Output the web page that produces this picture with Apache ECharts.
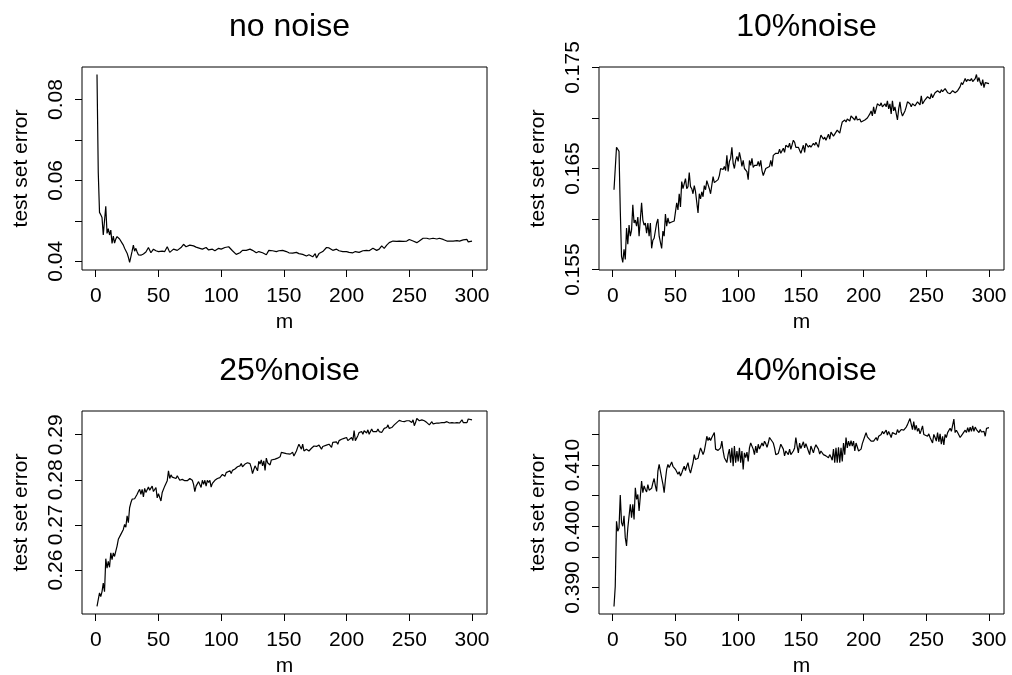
<!DOCTYPE html>
<html>
<head>
<meta charset="utf-8">
<script src="https://cdn.jsdelivr.net/npm/echarts@6/dist/echarts.min.js"></script>
<style>
  html, body { margin: 0; padding: 0; background: #fff; }
  #main { width: 1012px; height: 675px; }
</style>
</head>
<body>
<div id="main"></div>
<script>
// m = training set size, values = test set error
var noNoiseM = [1,2,3,4,5,6,7,8,9,10,11,12,13,14,15,16,17,18,19,20,21,22,23,24,25,26,27,28,29,30,31,32,33,34,35,36,38,40,42,44,46,48,50,53,55,57,58,59,62,65,68,70,72,75,78,80,83,85,88,90,93,95,98,100,103,106,109,112,115,117,120,123,125,128,130,133,136,138,141,144,146,149,152,154,157,160,162,165,168,170,173,175,176,178,181,184,186,189,192,194,197,200,202,205,207,210,213,216,218,221,224,226,228,230,232,234,237,240,242,245,248,250,253,256,258,261,264,266,269,272,274,277,280,282,285,288,290,293,296,297,300];
var noNoiseErr = [0.0862,0.0620,0.0521,0.0515,0.0508,0.0465,0.0466,0.0536,0.0469,0.0481,0.0465,0.0477,0.0444,0.0462,0.0445,0.0455,0.0461,0.0462,0.0455,0.0452,0.0445,0.0440,0.0432,0.0428,0.0420,0.0410,0.0397,0.0411,0.0425,0.0440,0.0425,0.0432,0.0423,0.0416,0.0413,0.0415,0.0418,0.0423,0.0434,0.0421,0.0430,0.0426,0.0424,0.0425,0.0424,0.0436,0.0433,0.0422,0.0430,0.0427,0.0434,0.0442,0.0436,0.0440,0.0438,0.0435,0.0432,0.0430,0.0434,0.0428,0.0430,0.0426,0.0432,0.0430,0.0434,0.0436,0.0426,0.0417,0.0421,0.0427,0.0427,0.0430,0.0427,0.0421,0.0424,0.0421,0.0416,0.0427,0.0426,0.0424,0.0426,0.0427,0.0424,0.0421,0.0420,0.0422,0.0419,0.0417,0.0413,0.0416,0.0411,0.0419,0.0408,0.0419,0.0424,0.0434,0.0433,0.0427,0.0430,0.0426,0.0424,0.0424,0.0422,0.0421,0.0424,0.0422,0.0426,0.0427,0.0426,0.0432,0.0427,0.0430,0.0438,0.0432,0.0440,0.0446,0.0450,0.0449,0.0450,0.0449,0.0450,0.0454,0.0450,0.0446,0.0450,0.0457,0.0457,0.0455,0.0457,0.0455,0.0457,0.0454,0.0450,0.0450,0.0450,0.0451,0.0450,0.0453,0.0454,0.0448,0.0450];

var noise10M = [1,2,3,4,5,6,7,8,9,10,11,12,13,14,15,16,17,18,19,20,21,23,24,25,26,27,28,29,30,31,32,33,35,36,37,39,40,41,42,43,44,45,47,49,51,52,53,54,55,56,57,58,59,60,61,62,63,64,65,66,68,69,70,71,72,73,74,75,76,77,78,80,81,82,84,85,86,88,89,90,91,92,93,94,95,96,97,98,99,100,101,102,103,104,105,107,108,109,110,111,112,113,114,115,116,117,118,119,120,122,123,125,126,127,128,130,131,132,133,134,136,137,138,140,141,142,144,145,146,148,149,150,152,153,154,156,157,158,160,161,162,164,165,166,168,169,170,172,173,174,176,177,178,179,181,182,183,185,186,187,189,190,191,193,194,195,197,198,199,201,202,203,205,206,207,208,209,210,211,213,214,215,217,218,219,220,221,222,223,224,225,227,228,229,230,231,233,234,235,237,238,239,241,242,243,245,246,247,249,250,251,253,254,255,257,258,259,261,262,263,265,266,267,269,270,271,273,274,275,277,278,279,281,282,283,285,286,287,289,290,291,292,293,294,295,296,297,298,300];
var noise10Err = [0.1629,0.1629,0.1671,0.1669,0.1667,0.1609,0.1563,0.1557,0.1570,0.1560,0.1591,0.1575,0.1594,0.1583,0.1589,0.1614,0.1596,0.1599,0.1593,0.1602,0.1583,0.1616,0.1599,0.1594,0.1596,0.1586,0.1596,0.1583,0.1596,0.1571,0.1579,0.1581,0.1596,0.1600,0.1583,0.1571,0.1588,0.1583,0.1605,0.1593,0.1601,0.1596,0.1597,0.1598,0.1616,0.1609,0.1625,0.1612,0.1637,0.1630,0.1635,0.1640,0.1630,0.1632,0.1646,0.1632,0.1630,0.1625,0.1633,0.1627,0.1606,0.1625,0.1620,0.1627,0.1622,0.1633,0.1629,0.1638,0.1634,0.1630,0.1625,0.1642,0.1636,0.1635,0.1639,0.1643,0.1650,0.1649,0.1652,0.1648,0.1663,0.1647,0.1657,0.1660,0.1671,0.1655,0.1650,0.1658,0.1662,0.1657,0.1666,0.1660,0.1652,0.1658,0.1650,0.1647,0.1639,0.1658,0.1653,0.1660,0.1651,0.1653,0.1652,0.1653,0.1657,0.1652,0.1658,0.1648,0.1643,0.1650,0.1649,0.1652,0.1658,0.1652,0.1663,0.1665,0.1666,0.1665,0.1669,0.1665,0.1670,0.1666,0.1673,0.1671,0.1675,0.1669,0.1678,0.1676,0.1671,0.1671,0.1672,0.1665,0.1673,0.1666,0.1675,0.1671,0.1673,0.1671,0.1675,0.1673,0.1676,0.1671,0.1678,0.1683,0.1679,0.1681,0.1678,0.1684,0.1679,0.1686,0.1682,0.1684,0.1683,0.1688,0.1685,0.1691,0.1696,0.1698,0.1696,0.1699,0.1697,0.1702,0.1701,0.1698,0.1702,0.1698,0.1699,0.1696,0.1695,0.1698,0.1699,0.1700,0.1704,0.1707,0.1702,0.1711,0.1704,0.1709,0.1714,0.1712,0.1715,0.1711,0.1714,0.1711,0.1717,0.1709,0.1714,0.1704,0.1717,0.1707,0.1711,0.1698,0.1709,0.1716,0.1706,0.1702,0.1707,0.1711,0.1716,0.1714,0.1711,0.1714,0.1712,0.1711,0.1716,0.1713,0.1722,0.1714,0.1718,0.1717,0.1721,0.1719,0.1724,0.1720,0.1725,0.1724,0.1727,0.1725,0.1728,0.1726,0.1729,0.1727,0.1725,0.1724,0.1724,0.1727,0.1725,0.1724,0.1727,0.1731,0.1735,0.1733,0.1739,0.1736,0.1738,0.1737,0.1739,0.1736,0.1739,0.1743,0.1736,0.1740,0.1735,0.1732,0.1738,0.1730,0.1735,0.1736,0.1734];

var noise25M = [1,2,3,4,5,6,7,8,9,10,11,12,13,14,15,16,17,18,19,20,21,22,23,24,25,26,27,28,29,30,31,32,33,34,35,36,37,38,39,40,41,42,43,44,45,46,47,48,49,50,51,52,53,54,55,56,57,58,59,60,61,62,64,65,66,67,68,69,71,72,73,75,76,77,78,79,80,81,82,84,85,86,87,88,89,90,91,92,93,95,96,97,99,100,101,103,104,105,107,108,109,111,112,113,115,116,117,119,120,121,123,124,125,127,128,129,130,131,132,133,134,135,136,137,139,140,141,143,144,145,147,148,149,152,155,157,158,160,161,162,164,165,166,168,169,170,172,173,174,176,177,178,180,181,182,184,185,186,188,189,190,192,193,194,196,197,198,200,201,202,204,205,206,207,208,209,210,212,213,214,216,217,218,220,221,222,224,225,226,228,229,230,232,233,234,236,237,238,240,241,242,244,245,246,248,249,250,252,253,254,255,256,257,258,260,261,262,264,265,266,268,269,270,272,273,274,276,277,278,280,281,282,284,285,286,288,289,290,292,293,294,296,297,298,300];
var noise25Err = [0.2519,0.2519,0.2549,0.2541,0.2552,0.2571,0.2552,0.2625,0.2604,0.2619,0.2606,0.2638,0.2623,0.2638,0.2630,0.2642,0.2653,0.2668,0.2665,0.2679,0.2675,0.2690,0.2701,0.2695,0.2720,0.2705,0.2738,0.2749,0.2757,0.2759,0.2758,0.2763,0.2768,0.2774,0.2779,0.2768,0.2779,0.2762,0.2781,0.2772,0.2775,0.2784,0.2777,0.2779,0.2786,0.2774,0.2772,0.2783,0.2760,0.2769,0.2766,0.2753,0.2772,0.2769,0.2786,0.2792,0.2798,0.2820,0.2803,0.2811,0.2806,0.2808,0.2803,0.2809,0.2805,0.2799,0.2796,0.2801,0.2798,0.2801,0.2798,0.2803,0.2806,0.2799,0.2790,0.2774,0.2786,0.2784,0.2796,0.2783,0.2799,0.2790,0.2799,0.2786,0.2799,0.2794,0.2799,0.2784,0.2792,0.2799,0.2796,0.2803,0.2805,0.2806,0.2812,0.2808,0.2816,0.2812,0.2820,0.2814,0.2821,0.2824,0.2826,0.2829,0.2831,0.2836,0.2829,0.2835,0.2831,0.2838,0.2836,0.2827,0.2814,0.2831,0.2835,0.2820,0.2841,0.2835,0.2844,0.2831,0.2842,0.2821,0.2848,0.2838,0.2833,0.2844,0.2844,0.2846,0.2850,0.2848,0.2851,0.2861,0.2857,0.2858,0.2857,0.2861,0.2853,0.2864,0.2872,0.2879,0.2868,0.2879,0.2864,0.2868,0.2872,0.2864,0.2870,0.2868,0.2875,0.2874,0.2870,0.2877,0.2868,0.2874,0.2870,0.2877,0.2875,0.2879,0.2872,0.2883,0.2879,0.2884,0.2879,0.2887,0.2890,0.2887,0.2892,0.2894,0.2887,0.2890,0.2894,0.2887,0.2909,0.2887,0.2890,0.2898,0.2905,0.2907,0.2901,0.2909,0.2904,0.2911,0.2901,0.2913,0.2907,0.2909,0.2907,0.2913,0.2907,0.2905,0.2907,0.2914,0.2916,0.2922,0.2914,0.2916,0.2919,0.2922,0.2927,0.2930,0.2932,0.2930,0.2932,0.2929,0.2931,0.2927,0.2931,0.2927,0.2933,0.2920,0.2927,0.2936,0.2933,0.2931,0.2933,0.2929,0.2931,0.2927,0.2931,0.2922,0.2929,0.2924,0.2927,0.2926,0.2929,0.2926,0.2927,0.2929,0.2927,0.2929,0.2927,0.2926,0.2927,0.2929,0.2926,0.2927,0.2931,0.2926,0.2933,0.2927,0.2931,0.2927,0.2935,0.2931,0.2933];

var noise40M = [1,2,3,4,5,6,7,8,9,10,11,12,14,15,16,17,18,19,20,21,22,23,24,25,26,27,28,29,31,32,33,34,35,36,37,38,39,40,41,42,43,44,45,47,48,49,50,51,52,53,54,55,56,57,58,59,60,61,62,64,65,66,67,68,69,70,71,72,73,74,75,76,77,78,79,81,82,83,84,85,86,87,88,89,90,91,92,93,94,95,96,97,98,99,100,101,102,103,104,105,106,107,108,109,110,111,112,113,114,115,116,117,118,119,120,121,122,123,124,125,126,128,129,130,132,133,134,136,137,138,140,141,142,144,145,146,147,148,149,150,152,153,154,156,157,158,160,161,162,164,165,166,168,169,170,172,173,174,175,176,177,178,179,180,181,182,183,184,185,186,187,188,189,190,191,192,193,194,196,198,199,200,201,202,203,204,206,207,208,210,211,212,214,215,216,218,219,220,222,223,224,226,227,228,230,231,232,234,235,236,237,238,239,240,241,242,243,244,245,246,247,248,249,251,252,253,254,255,256,257,258,259,260,261,262,263,264,265,266,267,268,269,270,271,272,273,274,275,276,277,279,280,281,282,283,284,285,286,287,288,289,290,291,292,293,294,296,297,298,299,300];
var noise40Err = [0.3869,0.3902,0.4008,0.3992,0.3997,0.4051,0.4006,0.4000,0.4017,0.3981,0.3968,0.3997,0.4036,0.4014,0.4036,0.4011,0.4063,0.4044,0.4052,0.4025,0.4049,0.4074,0.4055,0.4066,0.4060,0.4056,0.4068,0.4059,0.4062,0.4071,0.4078,0.4066,0.4057,0.4090,0.4101,0.4104,0.4079,0.4069,0.4055,0.4076,0.4093,0.4101,0.4096,0.4105,0.4098,0.4101,0.4093,0.4090,0.4085,0.4089,0.4082,0.4087,0.4093,0.4098,0.4091,0.4098,0.4104,0.4093,0.4087,0.4104,0.4117,0.4109,0.4112,0.4111,0.4120,0.4128,0.4123,0.4117,0.4123,0.4134,0.4147,0.4140,0.4145,0.4140,0.4145,0.4153,0.4126,0.4126,0.4124,0.4126,0.4128,0.4139,0.4123,0.4112,0.4109,0.4104,0.4117,0.4126,0.4104,0.4128,0.4098,0.4131,0.4104,0.4123,0.4106,0.4128,0.4104,0.4123,0.4093,0.4120,0.4112,0.4121,0.4106,0.4128,0.4136,0.4134,0.4126,0.4117,0.4131,0.4120,0.4134,0.4126,0.4131,0.4136,0.4131,0.4139,0.4135,0.4129,0.4136,0.4145,0.4142,0.4136,0.4128,0.4117,0.4119,0.4120,0.4134,0.4126,0.4115,0.4123,0.4117,0.4126,0.4117,0.4123,0.4128,0.4145,0.4131,0.4120,0.4136,0.4127,0.4138,0.4128,0.4135,0.4123,0.4117,0.4131,0.4120,0.4128,0.4133,0.4126,0.4118,0.4123,0.4117,0.4120,0.4115,0.4112,0.4117,0.4113,0.4108,0.4126,0.4104,0.4128,0.4104,0.4129,0.4104,0.4128,0.4106,0.4136,0.4117,0.4145,0.4128,0.4139,0.4131,0.4140,0.4131,0.4139,0.4123,0.4136,0.4123,0.4126,0.4135,0.4138,0.4147,0.4153,0.4146,0.4149,0.4139,0.4142,0.4139,0.4145,0.4140,0.4147,0.4150,0.4155,0.4151,0.4157,0.4149,0.4155,0.4145,0.4153,0.4155,0.4150,0.4158,0.4153,0.4158,0.4161,0.4157,0.4162,0.4166,0.4171,0.4176,0.4173,0.4158,0.4171,0.4157,0.4165,0.4155,0.4160,0.4151,0.4157,0.4164,0.4150,0.4153,0.4147,0.4151,0.4145,0.4147,0.4136,0.4150,0.4145,0.4139,0.4153,0.4138,0.4151,0.4134,0.4147,0.4133,0.4150,0.4145,0.4153,0.4155,0.4160,0.4155,0.4158,0.4175,0.4153,0.4157,0.4153,0.4149,0.4145,0.4151,0.4149,0.4157,0.4153,0.4161,0.4154,0.4162,0.4155,0.4164,0.4155,0.4162,0.4158,0.4161,0.4153,0.4158,0.4154,0.4155,0.4147,0.4160,0.4162,0.4161];

var panelTitles = ['no noise', '10%noise', '25%noise', '40%noise'];
var xTicks = [0, 50, 100, 150, 200, 250, 300];
var yTicks = [
    [0.04, 0.05, 0.06, 0.07, 0.08],
    [0.155, 0.160, 0.165, 0.170, 0.175],
    [0.26, 0.27, 0.28, 0.29],
    [0.390, 0.395, 0.400, 0.405, 0.410, 0.415]
];
var yLabels = [
    [0.04, 0.06, 0.08],
    [0.155, 0.165, 0.175],
    [0.26, 0.27, 0.28, 0.29],
    [0.390, 0.400, 0.410]
];
var yDigits = [2, 3, 2, 3];

var seriesM = [noNoiseM, noise10M, noise25M, noise40M];
var seriesErr = [noNoiseErr, noise10Err, noise25Err, noise40Err];

// plot boxes (pixels)
var boxes = [
    {left: 82, top: 67},
    {left: 599, top: 67},
    {left: 82, top: 411},
    {left: 599, top: 411}
];
var boxW = 405, boxH = 203;
var font = "'Liberation Sans', Arial, Helvetica, sans-serif";

// R style axis range: data range extended by 4% on each side
function rExtent(arr) {
    var lo = Math.min.apply(null, arr), hi = Math.max.apply(null, arr);
    var d = (hi - lo) * 0.04;
    return [lo - d, hi + d];
}

var chart = echarts.init(document.getElementById('main'));

var option = {
    animation: false,
    backgroundColor: '#fff',
    title: [],
    grid: [],
    xAxis: [],
    yAxis: [],
    series: []
};

for (var i = 0; i < 4; i++) {
    var b = boxes[i];
    var xr = rExtent(seriesM[i]);
    var yr = rExtent(seriesErr[i]);
    var digits = yDigits[i];

    option.title.push({
        text: panelTitles[i],
        left: b.left + boxW / 2,
        top: b.top - 61,
        textAlign: 'center',
        textStyle: {fontSize: 32, fontWeight: 'normal', color: '#000', fontFamily: font}
    });

    option.grid.push({
        left: b.left, top: b.top, width: boxW, height: boxH,
        show: true, borderColor: '#000', borderWidth: 1,
        backgroundColor: 'transparent',
        outerBoundsMode: 'none'
    });

    option.xAxis.push({
        type: 'value', gridIndex: i,
        min: xr[0], max: xr[1],
        axisLine: {show: false, onZero: false},
        splitLine: {show: false},
        axisTick: {show: true, length: 7, customValues: xTicks, lineStyle: {color: '#000', width: 1}},
        axisLabel: {customValues: xTicks, color: '#000', fontSize: 21, margin: 16, fontFamily: font},
        name: 'm', nameLocation: 'middle', nameGap: 42,
        nameTextStyle: {color: '#000', fontSize: 21, fontFamily: font}
    });

    option.yAxis.push({
        type: 'value', gridIndex: i,
        min: yr[0], max: yr[1],
        axisLine: {show: false, onZero: false},
        splitLine: {show: false},
        axisTick: {show: true, length: 7, customValues: yTicks[i], lineStyle: {color: '#000', width: 1}},
        axisLabel: {
            customValues: yLabels[i], color: '#000', fontSize: 21, margin: 15, rotate: 90,
            fontFamily: font,
            formatter: (function (d) { return function (v) { return v.toFixed(d); }; })(digits)
        },
        name: 'test set error', nameLocation: 'middle', nameGap: 50, nameRotate: 90,
        nameTextStyle: {color: '#000', fontSize: 21, fontFamily: font}
    });

    option.series.push({
        type: 'line', xAxisIndex: i, yAxisIndex: i,
        showSymbol: false, symbol: 'none',
        lineStyle: {color: '#000', width: 1.2},
        data: seriesM[i].map(function (m, k) { return [m, seriesErr[i][k]]; })
    });
}

chart.setOption(option);
</script>
</body>
</html>
